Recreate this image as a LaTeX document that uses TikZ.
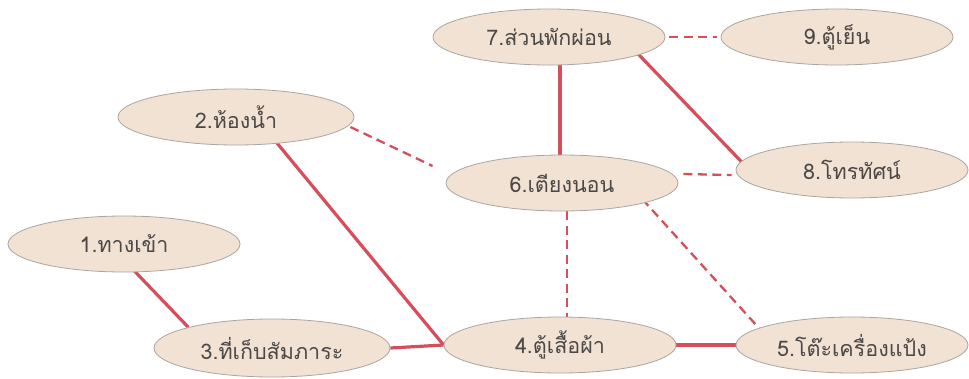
\documentclass[tikz,border=0pt]{standalone}
\usepackage{fontspec}
\newfontfamily\thaifont[Script=Thai]{Loma}
\usetikzlibrary{shapes.geometric,backgrounds,calc}
\definecolor{bubble}{RGB}{242,226,212}
\definecolor{rim}{RGB}{170,165,160}
\definecolor{wire}{RGB}{214,78,92}
\definecolor{ink}{RGB}{75,72,70}
\tikzset{
  room/.style={ellipse, draw=rim, line width=0.8pt, fill=bubble, minimum width=232pt, minimum height=56pt, inner sep=0pt, font=\thaifont\fontsize{21.5}{26}\selectfont, text=ink},
  strong/.style={draw=wire, line width=3.2pt},
  weak/.style={draw=wire, line width=2.3pt, dash pattern=on 9pt off 5.5pt}
}
\begin{document}
\begin{tikzpicture}[x=1pt,y=-1pt]
\useasboundingbox (0,0) rectangle (969,378);
\node[room] (n1) at (124,244) {1.ทางเข้า};
\node[room, minimum width=236pt] (n2) at (236,117) {2.ห้องน้ำ};
\node[room, minimum width=236pt, minimum height=58pt] (n3) at (272,348) {3.ที่เก็บสัมภาระ};
\node[room] (n4) at (560,345) {4.ตู้เสื้อผ้า};
\node[room] (n5) at (852,345) {5.โต๊ะเครื่องแป้ง};
\node[room] (n6) at (562,183) {6.เตียงนอน};
\node[room] (n7) at (549,37) {7.ส่วนพักผ่อน};
\node[room] (n8) at (852,170) {8.โทรทัศน์};
\node[room] (n9) at (837,37) {9.ตู้เย็น};
\coordinate (e26) at ($(n6.west)+(-13,-17)$);
\coordinate (e79) at ($(n9.west)+(-4,0)$);
\coordinate (e68) at ($(n8.west)+(-4,5)$);
\coordinate (e65) at ($(n5.north west)+(-10,4)$);
\begin{scope}[on background layer]
\draw[strong] ($(n1.south)+(6,-6)$) -- (n3.north west);
\draw[strong] ($(n2.south)+(38,-6)$) -- (n4.west);
\draw[strong] (n3.east) -- (n4.west);
\draw[strong] (n4.east) -- (n5.west);
\draw[strong] ($(n7.south)+(11,-5)$) -- ($(n6.north)+(-2,5)$);
\draw[strong] ($(n7.south east)+(6,-4)$) -- ($(n8.west)+(8,-6)$);
\draw[weak] ($(n2.east)+(-4,10)$) -- (e26);
\draw[weak] ($(n7.east)+(4,0)$) -- (e79);
\draw[weak] ($(n6.east)+(5,-9)$) -- (e68);
\draw[weak] ($(n6.south)+(5,0)$) -- ($(n4.north)+(7,0)$);
\draw[weak] ($(n6.south east)+(-2,-4)$) -- (e65);
\end{scope}
\end{tikzpicture}
\end{document}
